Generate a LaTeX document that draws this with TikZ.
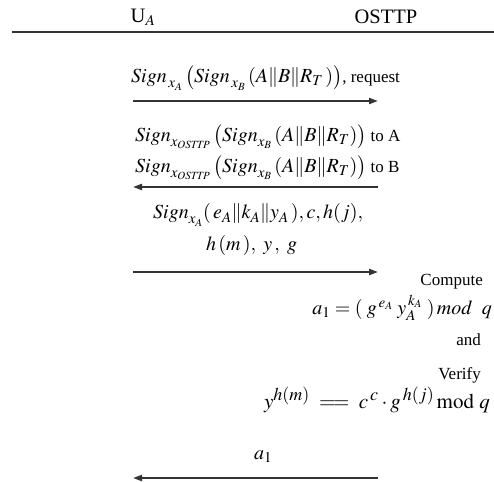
\documentclass[tikz,border=0pt]{standalone}
\usepackage{mathptmx}
\usepackage{fontspec}
\setmainfont{Liberation Serif}
\usetikzlibrary{arrows.meta}
\DeclareMathSizes{20}{20}{15}{11}
\DeclareMathSizes{21}{21}{18}{13}
\tikzset{
  hdr/.style={inner sep=0pt, font=\fontsize{20.5}{22}\selectfont},
  lbl/.style={inner sep=0pt, font=\fontsize{17}{20}\selectfont},
  msg/.style={line width=2pt, draw=black!80, -{Triangle[length=9pt,width=6pt]}},
  rule/.style={line width=2.4pt, draw=black!80}
}
\newcommand{\Sg}{\mathit{Sign}}
\newcommand{\bm}[1]{{\fontsize{20}{22}\selectfont$#1$}}
\newcommand{\bmx}[1]{{\fontsize{21}{23}\selectfont$#1$}}
\begin{document}
\begin{tikzpicture}[x=1pt,y=-1pt]
\useasboundingbox (0,0) rectangle (494,481);
\node[hdr] (ua) at (143,17) {U$_{A}$};
\node[hdr] (os) at (386,17) {OSTTP};
\coordinate (rl) at (12,32);
\coordinate (rr) at (494,32);
\draw[rule] (rl) -- (rr);

\node[lbl, anchor=west] (t1) at (131,78) {\bm{\Sg_{\,x_A}\left(\Sg_{\,x_B}\left(A\|B\|R_T\,\right)\right)}, request};
\coordinate (a1l) at (133,101); \coordinate (a1r) at (378,101);
\draw[msg] (a1l) -- (a1r);

\node[lbl, anchor=west] (t2) at (135,137) {\bm{\Sg_{x_{\mathit{OSTTP}}}\left(\Sg_{x_B}\left(A\|B\|R_T\right)\right)} to A};
\node[lbl, anchor=west] (t3) at (135,168) {\bm{\Sg_{x_{\mathit{OSTTP}}}\left(\Sg_{x_B}\left(A\|B\|R_T\right)\right)} to B};
\coordinate (a2l) at (133,187); \coordinate (a2r) at (378,187);
\draw[msg] (a2r) -- (a2l);

\node[lbl, anchor=west] (t4) at (153,215) {\bm{\Sg_{x_A}(\,e_A\|k_A\|y_A\,), c, h(j),}};
\node[lbl, anchor=west] (t5) at (206,245) {\bm{h\,(m\,), \ y\,, \ g}};
\coordinate (a3l) at (133,272); \coordinate (a3r) at (378,272);
\draw[msg] (a3l) -- (a3r);

\node[lbl, anchor=east] (c1) at (483,282) {Compute};
\node[lbl, anchor=east] (c2) at (492,308) {\bm{a_1 = (\;g^{\,e_A}\; y_A^{\,k_A}\;)\,\mathit{mod}\ \ q}};
\node[lbl, anchor=east] (c3) at (481,340) {and};
\node[lbl, anchor=east] (c4) at (481,375) {Verify};
\node[lbl, anchor=east] (c5) at (490,400) {\bmx{y^{h(m)} \;=\!=\; c^{\,c}\cdot g^{\,h(j)}\,\mathrm{mod}\ q}};

\node[lbl] (t6) at (263,457) {\bm{a_1}};
\coordinate (a4l) at (133,478); \coordinate (a4r) at (378,478);
\draw[msg] (a4r) -- (a4l);
\end{tikzpicture}
\end{document}
